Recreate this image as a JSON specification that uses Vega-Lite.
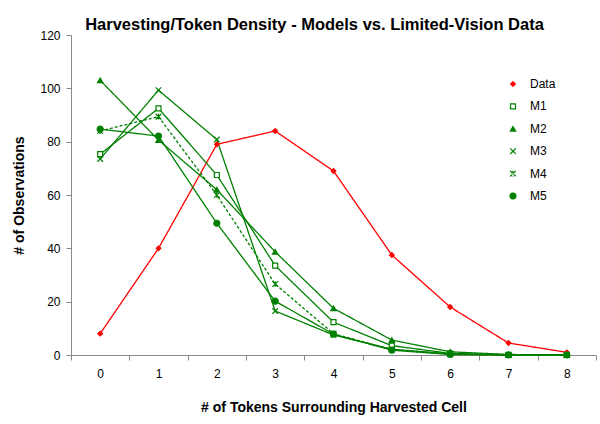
{
  "$schema": "https://vega.github.io/schema/vega-lite/v6.json",
  "width": 525,
  "height": 320,
  "autosize": {"type": "none"},
  "padding": {"left": 71, "top": 35, "right": 4, "bottom": 69},
  "background": "white",
  "config": {
    "font": "Liberation Sans",
    "view": {"stroke": null}
  },
  "title": {
    "text": "Harvesting/Token Density - Models vs. Limited-Vision Data",
    "fontSize": 16.5,
    "fontWeight": "bold",
    "font": "Liberation Sans",
    "color": "#000000",
    "anchor": "middle",
    "dx": -19,
    "offset": -4
  },
  "data": {
    "values": [
      {"tokens": 0, "series": "Data", "obs": 8},
      {"tokens": 1, "series": "Data", "obs": 40},
      {"tokens": 2, "series": "Data", "obs": 79},
      {"tokens": 3, "series": "Data", "obs": 84},
      {"tokens": 4, "series": "Data", "obs": 69},
      {"tokens": 5, "series": "Data", "obs": 37.5},
      {"tokens": 6, "series": "Data", "obs": 18},
      {"tokens": 7, "series": "Data", "obs": 4.5},
      {"tokens": 8, "series": "Data", "obs": 1},
      {"tokens": 0, "series": "M1", "obs": 75.3},
      {"tokens": 1, "series": "M1", "obs": 92.5},
      {"tokens": 2, "series": "M1", "obs": 67.5},
      {"tokens": 3, "series": "M1", "obs": 33.5},
      {"tokens": 4, "series": "M1", "obs": 12.3},
      {"tokens": 5, "series": "M1", "obs": 3.5},
      {"tokens": 6, "series": "M1", "obs": 0.6},
      {"tokens": 7, "series": "M1", "obs": 0.1},
      {"tokens": 8, "series": "M1", "obs": 0},
      {"tokens": 0, "series": "M2", "obs": 103},
      {"tokens": 1, "series": "M2", "obs": 80.6},
      {"tokens": 2, "series": "M2", "obs": 62},
      {"tokens": 3, "series": "M2", "obs": 38.7},
      {"tokens": 4, "series": "M2", "obs": 17.5},
      {"tokens": 5, "series": "M2", "obs": 5.6},
      {"tokens": 6, "series": "M2", "obs": 1.2},
      {"tokens": 7, "series": "M2", "obs": 0.2},
      {"tokens": 8, "series": "M2", "obs": 0},
      {"tokens": 0, "series": "M3", "obs": 73.5},
      {"tokens": 1, "series": "M3", "obs": 99.3},
      {"tokens": 2, "series": "M3", "obs": 80.8},
      {"tokens": 3, "series": "M3", "obs": 16.5},
      {"tokens": 4, "series": "M3", "obs": 7.5},
      {"tokens": 5, "series": "M3", "obs": 2.2},
      {"tokens": 6, "series": "M3", "obs": 0.4},
      {"tokens": 7, "series": "M3", "obs": 0},
      {"tokens": 8, "series": "M3", "obs": 0},
      {"tokens": 0, "series": "M4", "obs": 84},
      {"tokens": 1, "series": "M4", "obs": 89.4},
      {"tokens": 2, "series": "M4", "obs": 60},
      {"tokens": 3, "series": "M4", "obs": 26.6},
      {"tokens": 4, "series": "M4", "obs": 8},
      {"tokens": 5, "series": "M4", "obs": 2},
      {"tokens": 6, "series": "M4", "obs": 0.3},
      {"tokens": 7, "series": "M4", "obs": 0},
      {"tokens": 8, "series": "M4", "obs": 0},
      {"tokens": 0, "series": "M5", "obs": 84.7},
      {"tokens": 1, "series": "M5", "obs": 82.1},
      {"tokens": 2, "series": "M5", "obs": 49.4},
      {"tokens": 3, "series": "M5", "obs": 20.2},
      {"tokens": 4, "series": "M5", "obs": 7.8},
      {"tokens": 5, "series": "M5", "obs": 1.8},
      {"tokens": 6, "series": "M5", "obs": 0.2},
      {"tokens": 7, "series": "M5", "obs": 0},
      {"tokens": 8, "series": "M5", "obs": 0}
    ]
  },
  "encoding": {
    "x": {
      "field": "tokens",
      "type": "ordinal",
      "scale": {"type": "band", "paddingInner": 0, "paddingOuter": 0},
      "axis": {
        "title": "# of Tokens Surrounding Harvested Cell",
        "titleFontSize": 14,
        "titleFontWeight": "bold",
        "titleColor": "#000000",
        "titlePadding": 21,
        "labelAngle": 0,
        "labelFontSize": 12,
        "labelColor": "#000000",
        "labelPadding": 8,
        "tickBand": "extent",
        "tickSize": 5,
        "tickColor": "#888888",
        "domainColor": "#888888",
        "grid": false
      }
    },
    "y": {
      "field": "obs",
      "type": "quantitative",
      "scale": {"domain": [0, 120], "nice": false},
      "axis": {
        "title": "# of Observations",
        "titleFontSize": 14,
        "titleFontWeight": "bold",
        "titleColor": "#000000",
        "titlePadding": 13,
        "values": [0, 20, 40, 60, 80, 100, 120],
        "labelFontSize": 12,
        "labelColor": "#000000",
        "labelPadding": 6,
        "tickSize": 5,
        "tickColor": "#888888",
        "domainColor": "#888888",
        "grid": false
      }
    }
  },
  "layer": [
    {
      "mark": {"type": "line", "strokeWidth": 1.3},
      "encoding": {
        "stroke": {
          "field": "series",
          "type": "nominal",
          "scale": {"domain": ["Data", "M1", "M2", "M3", "M4", "M5"], "range": ["#ff0000", "#008000", "#008000", "#008000", "#008000", "#008000"]},
          "legend": {
            "title": null,
            "orient": "none",
            "legendX": 436,
            "legendY": 43,
            "padding": 0,
            "rowPadding": 10.4,
            "labelFontSize": 12,
            "labelColor": "#000000",
            "labelOffset": 11,
            "symbolSize": 64,
            "symbolStrokeWidth": 1.2,
            "encode": {
              "symbols": {
                "update": {
                  "size": {"value": 64},
                  "strokeWidth": {"value": 1.2},
                  "fill": {"signal": "datum.value == 'Data' ? '#ff0000' : datum.value == 'M1' ? '#ffffff' : '#008000'"},
                  "shape": {"signal": "datum.value == 'Data' ? 'M-3.2,0H3.2M0,-0.8L0.6,0L0,0.8L-0.6,0Z' : datum.value == 'M1' ? 'M-3.2,0H-0.75M0.75,0H3.2M-0.75,-0.75H0.75V0.75H-0.75Z' : datum.value == 'M2' ? 'M-3.2,0H3.2M0,-0.9L0.85,0.65H-0.85Z' : datum.value == 'M3' ? 'M-3.2,0H3.2M-0.6,-0.6L0.6,0.6M-0.6,0.6L0.6,-0.6' : datum.value == 'M4' ? 'M-3.2,0H-2.6M-2.1,0H-1.5M-1,0H-0.6M0.6,0H1M1.5,0H2.1M2.6,0H3.2M-0.6,-0.6L0.6,0.6M-0.6,0.6L0.6,-0.6M0,-0.6V0.6' : 'M-3.2,0H3.2M-1,0A1,1,0,1,0,1,0A1,1,0,1,0,-1,0Z'"}
                }
              }
            }
          }
        },
        "strokeDash": {
          "field": "series",
          "type": "nominal",
          "scale": {"domain": ["Data", "M1", "M2", "M3", "M4", "M5"], "range": [[1, 0], [1, 0], [1, 0], [1, 0], [3, 2], [1, 0]]},
          "legend": null
        },
        "order": {"field": "tokens", "type": "quantitative"}
      }
    },
    {
      "mark": {"type": "point", "strokeWidth": 1.2, "opacity": 1, "size": 40},
      "encoding": {
        "stroke": {
          "field": "series",
          "type": "nominal",
          "scale": {"domain": ["Data", "M1", "M2", "M3", "M4", "M5"], "range": ["#ff0000", "#008000", "#008000", "#008000", "#008000", "#008000"]}
        },
        "fill": {
          "field": "series",
          "type": "nominal",
          "scale": {"domain": ["Data", "M1", "M2", "M3", "M4", "M5"], "range": ["#ff0000", "#ffffff", "#008000", "#008000", "#008000", "#008000"]},
          "legend": null
        },
        "shape": {
          "field": "series",
          "type": "nominal",
          "scale": {"domain": ["Data", "M1", "M2", "M3", "M4", "M5"], "range": ["diamond", "square", "triangle-up", "M-1,-1L1,1M-1,1L1,-1", "M-1,-1L1,1M-1,1L1,-1M0,-1L0,1", "circle"]},
          "legend": null
        },
        "size": {
          "field": "series",
          "type": "nominal",
          "scale": {"domain": ["Data", "M1", "M2", "M3", "M4", "M5"], "range": [22, 36, 40, 30, 26, 80]},
          "legend": null
        }
      }
    }
  ]
}
